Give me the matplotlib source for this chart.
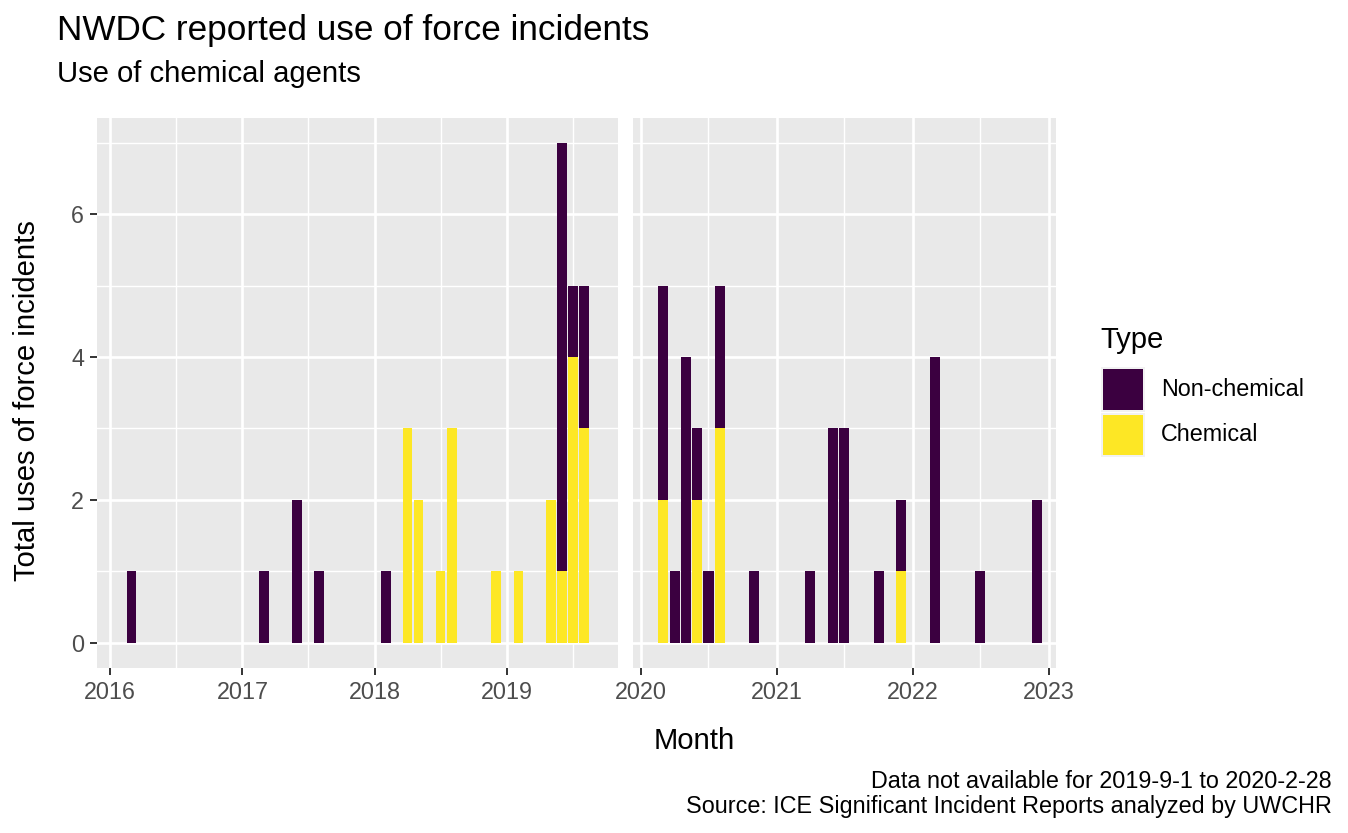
import numpy as np
import matplotlib
matplotlib.use("Agg")
import matplotlib.pyplot as plt
import matplotlib.dates as mdates
from matplotlib.patches import Rectangle

plt.rcParams['font.family'] = ['Liberation Sans', 'DejaVu Sans']

# monthly counts of use of force incidents
months = ['2016-03', '2017-03', '2017-06', '2017-08', '2018-02', '2018-04', '2018-05',
          '2018-07', '2018-08', '2018-12', '2019-02', '2019-05', '2019-06', '2019-07',
          '2019-08',
          '2020-03', '2020-04', '2020-05', '2020-06', '2020-07', '2020-08', '2020-11',
          '2021-04', '2021-06', '2021-07', '2021-10', '2021-12', '2022-03', '2022-07',
          '2022-12']
chemical = [0, 0, 0, 0, 0, 3, 2, 1, 3, 1, 1, 2, 1, 4, 3,
            2, 0, 0, 2, 0, 3, 0, 0, 0, 0, 0, 1, 0, 0, 0]
non_chemical = [1, 1, 2, 1, 1, 0, 0, 0, 0, 0, 0, 0, 6, 1, 2,
                3, 1, 4, 1, 1, 2, 1, 1, 3, 3, 1, 1, 4, 1, 2]

type_labels = ['Non-chemical', 'Chemical']
type_colors = ['#3b0040', '#fde725']

title = 'NWDC reported use of force incidents'
subtitle = 'Use of chemical agents'
caption = ['Data not available for 2019-9-1 to 2020-2-28',
           'Source: ICE Significant Incident Reports analyzed by UWCHR']

W, H = 1348, 833
fig = plt.figure(figsize=(W / 100, H / 100), dpi=100)


def px_axes(x0, y0, x1, y1):
    return fig.add_axes([x0 / W, 1 - y1 / H, (x1 - x0) / W, (y1 - y0) / H])


dates = np.array(months, dtype='datetime64[M]').astype('datetime64[D]')
xnum = mdates.date2num(dates)
chem = np.array(chemical)
nonchem = np.array(non_chemical)
split = np.datetime64('2020-01-01')

panels = [
    (px_axes(97.3, 117.6, 618, 667.9), dates < split,
     ('2015-11-28', '2019-11-02'), range(2015, 2021)),
    (px_axes(633.3, 117.6, 1055.7, 667.9), dates >= split,
     ('2019-12-12', '2023-01-20'), range(2019, 2024)),
]

for i, (ax, mask, lims, years) in enumerate(panels):
    ax.set_facecolor('#e9e9e9')
    for s in ax.spines.values():
        s.set_visible(False)
    ax.bar(xnum[mask], chem[mask], width=27, color=type_colors[1], linewidth=0, zorder=3)
    ax.bar(xnum[mask], nonchem[mask], width=27, bottom=chem[mask],
           color=type_colors[0], linewidth=0, zorder=3)
    ax.set_ylim(-0.35, 7.35)
    ax.set_xticks([mdates.date2num(np.datetime64(f'{y}-01-01')) for y in years])
    ax.set_xticks([mdates.date2num(np.datetime64(f'{y}-07-01')) for y in years], minor=True)
    ax.set_xticklabels([str(y) for y in years])
    ax.set_yticks([0, 2, 4, 6])
    ax.set_yticks([1, 3, 5, 7], minor=True)
    ax.grid(which='major', color='white', linewidth=1.9, zorder=0)
    ax.grid(which='minor', color='white', linewidth=1.0, zorder=0)
    ax.set_axisbelow(True)
    ax.tick_params(which='major', length=5.3, width=1.4, color='#333333',
                   labelsize=16.85, labelcolor='#4d4d4d', pad=4.2)
    ax.tick_params(which='minor', length=0)
    if i == 1:
        ax.tick_params(axis='y', which='both', left=False, labelleft=False)
    ax.set_xlim(mdates.date2num(np.datetime64(lims[0])), mdates.date2num(np.datetime64(lims[1])))

# titles
fig.text(57 / W, 1 - 40 / H, title, fontsize=25.3, ha='left', va='baseline')
fig.text(57 / W, 1 - 81.7 / H, subtitle, fontsize=21.1, ha='left', va='baseline')
fig.text(694 / W, 1 - 741 / H, 'Month', fontsize=21.1, ha='center', va='center')
fig.text(27 / W, 1 - 401 / H, 'Total uses of force incidents', fontsize=21.1,
         ha='center', va='center', rotation=90)
fig.text(1332 / W, 1 - 788.3 / H, caption[0], fontsize=16.85, ha='right', va='baseline')
fig.text(1332 / W, 1 - 813.3 / H, caption[1], fontsize=16.85, ha='right', va='baseline')

# legend
fig.text(1100 / W, 1 - 348 / H, 'Type', fontsize=21.1, ha='left', va='baseline')
key_tops = [367.3, 412.7]
for lab, col, top in zip(type_labels, type_colors, key_tops):
    fig.patches.append(Rectangle((1100.7 / W, 1 - (top + 44.5) / H), 44.5 / W, 44.5 / H,
                                 transform=fig.transFigure, facecolor='#f2f2f2',
                                 edgecolor='none'))
    fig.patches.append(Rectangle((1102.7 / W, 1 - (top + 42.5) / H), 40.5 / W, 40.5 / H,
                                 transform=fig.transFigure, facecolor=col,
                                 edgecolor='none'))
    fig.text(1161 / W, 1 - (top + 22.2) / H, lab, fontsize=16.85, ha='left', va='center')

fig.savefig('out.png', dpi=100)
